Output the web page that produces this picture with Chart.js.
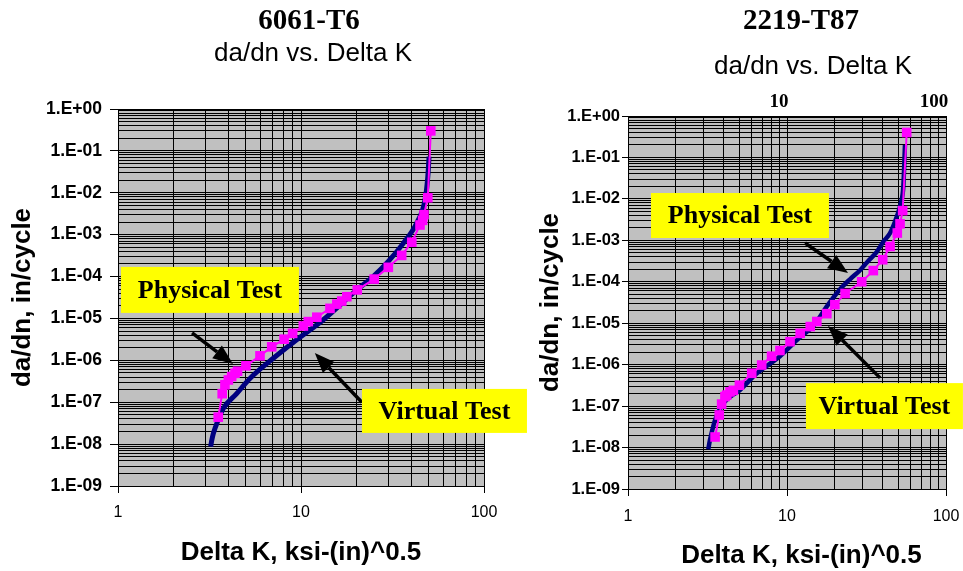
<!DOCTYPE html>
<html>
<head>
<meta charset="utf-8">
<script src="https://cdn.jsdelivr.net/npm/chart.js@4.4.1/dist/chart.umd.min.js"></script>
<style>
  body { margin: 0; background: #fff; width: 963px; height: 571px; position: relative; overflow: hidden; }
  canvas { position: absolute; top: 0; }
  #left { left: 0; }
  #right { left: 500px; }
</style>
</head>
<body>
<canvas id="left" width="540" height="571"></canvas>
<canvas id="right" width="463" height="571"></canvas>
<script>
// 6061-T6, Delta K (ksi-in^0.5) vs da/dn (in/cycle)
const phys6061K = [3.53, 3.71, 3.84, 4.01, 4.18, 4.36, 4.5, 5.0, 5.97, 6.92, 8.08, 9.0, 10.3, 10.96, 12.2, 14.4, 15.7, 16.7, 17.8, 20.3, 25.1, 30.0, 35.5, 40.3, 44.7, 46.2, 47.0, 49.3, 51.2];
const phys6061Rate = [4.4e-8, 1.6e-7, 2.6e-7, 3.4e-7, 4.1e-7, 4.9e-7, 5.5e-7, 7.4e-7, 1.28e-6, 2.1e-6, 3.2e-6, 4.4e-6, 6.6e-6, 8.4e-6, 1.07e-5, 1.74e-5, 2.2e-5, 2.6e-5, 3.3e-5, 4.8e-5, 8.7e-5, 1.66e-4, 3.2e-4, 6.6e-4, 1.7e-3, 2.2e-3, 3.0e-3, 7.6e-3, 0.30];
const virt6061K = [3.21, 3.25, 3.32, 3.53, 3.77, 4.45, 5.26, 7.06, 9.47, 13.2, 20.2, 24.8, 30.0, 36.2, 42.9, 47.6, 49.3, 50.1];
const virt6061Rate = [8.7e-9, 1.2e-8, 1.8e-8, 3.8e-8, 7.2e-8, 1.6e-7, 3.7e-7, 1.12e-6, 3.1e-6, 9.2e-6, 4.8e-5, 1.0e-4, 2.3e-4, 6.2e-4, 1.9e-3, 6.7e-3, 0.024, 0.073];

// 2219-T87
const phys2219K = [3.53, 3.75, 3.88, 4.07, 4.18, 4.38, 4.6, 5.02, 6.0, 6.93, 8.0, 9.03, 10.45, 12.1, 14.0, 15.4, 17.8, 20.0, 23.2, 29.5, 34.9, 40.0, 44.5, 49.4, 51.4, 53.4, 56.6];
const phys2219Rate = [1.8e-8, 6.1e-8, 1.12e-7, 1.7e-7, 1.85e-7, 2.2e-7, 2.4e-7, 3.2e-7, 6.2e-7, 9.8e-7, 1.6e-6, 2.2e-6, 3.6e-6, 5.7e-6, 8.3e-6, 1.1e-5, 1.7e-5, 2.8e-5, 5.2e-5, 1.0e-4, 1.86e-4, 3.4e-4, 7.1e-4, 1.5e-3, 2.5e-3, 5.2e-3, 0.40];
const virt2219K = [3.2, 3.25, 3.31, 3.53, 3.98, 5.06, 6.44, 9.03, 12.0, 14.6, 18.0, 21.5, 24.9, 28.8, 32.0, 36.6, 40.4, 44.5, 49.0, 52.0, 53.9, 55.2];
const virt2219Rate = [9e-9, 1.3e-8, 1.8e-8, 4.6e-8, 1.17e-7, 2.45e-7, 6.1e-7, 1.6e-6, 4.5e-6, 8.5e-6, 2.7e-5, 6.5e-5, 1.15e-4, 1.9e-4, 3.0e-4, 5.2e-4, 9.3e-4, 1.5e-3, 3.7e-3, 8e-3, 0.02, 0.2];

// axis labels
const yTickLabels = ['1.E-09', '1.E-08', '1.E-07', '1.E-06', '1.E-05', '1.E-04', '1.E-03', '1.E-02', '1.E-01', '1.E+00'];
const xTickLabels = ['1', '10', '100'];
const topTickValues = [10, 100];
const topTickLabels = ['10', '100'];
const topAxisMin = 1.06, topAxisMax = 119.5;

const NAVY = '#000080';
const MAGENTA = '#ff00ff';
const SANS = '"Liberation Sans", Arial, sans-serif';
const SERIF = '"Liberation Serif", "Times New Roman", serif';

const pairs = (xs, ys) => xs.map((x, i) => ({ x, y: ys[i] }));

// every 1..9 step in each decade gets a grid line, decades are major
function logGrid(min, max) {
  const ticks = [];
  const lo = Math.round(Math.log10(min)), hi = Math.round(Math.log10(max));
  for (let e = lo; e < hi; e++) {
    for (let m = 1; m < 10; m++) ticks.push({ value: m * Math.pow(10, e), major: m === 1 });
  }
  ticks.push({ value: max, major: true });
  return ticks;
}

// fixed axis size, and no extra room for labels hanging past the ends
const fixSize = (w, h) => s => {
  if (w != null) s.width = w;
  if (h != null) s.height = h;
  s.paddingLeft = s.paddingRight = 0;
};

const gridOpts = tickLen => ({
  color: '#000',
  lineWidth: 1,
  tickLength: tickLen,
  tickColor: c => (c.tick && c.tick.major ? '#000' : 'rgba(0,0,0,0)')
});

function yAxis(width, tickLen, pad, size, titlePad) {
  return {
    type: 'logarithmic', min: 1e-9, max: 1,
    afterFit: fixSize(width, null),
    afterBuildTicks: s => { s.ticks = logGrid(1e-9, 1); },
    grid: gridOpts(tickLen),
    border: { color: '#000', width: 1 },
    ticks: {
      autoSkip: false, padding: pad, color: '#000',
      font: { family: SANS, weight: 'bold', size },
      callback: (v, i, t) => (t[i].major ? yTickLabels[Math.round(Math.log10(v)) + 9] : '')
    },
    title: { display: true, text: 'da/dn, in/cycle', color: '#000', font: { family: SANS, weight: 'bold', size: 26 }, padding: { top: titlePad, bottom: 0 } }
  };
}

function xAxis(height, tickLen, pad, titleText, titlePad) {
  return {
    type: 'logarithmic', position: 'bottom', min: 1, max: 100,
    afterFit: fixSize(null, height),
    afterBuildTicks: s => { s.ticks = logGrid(1, 100); },
    grid: gridOpts(tickLen),
    border: { color: '#000', width: 1 },
    ticks: {
      autoSkip: false, maxRotation: 0, padding: pad, color: '#000',
      font: { family: SANS, size: 16 },
      callback: (v, i, t) => (t[i].major ? xTickLabels[Math.round(Math.log10(v))] : '')
    },
    title: { display: true, text: titleText, color: '#000', font: { family: SANS, weight: 'bold', size: 26 }, padding: { top: 0, bottom: titlePad } }
  };
}

function datasets(physK, physRate, virtK, virtRate, virtWidth) {
  return [
    {
      label: 'Physical Test', data: pairs(physK, physRate), showLine: true,
      borderColor: MAGENTA, backgroundColor: MAGENTA, borderWidth: 2,
      pointStyle: 'rect', pointRadius: 6.8, pointBorderWidth: 0
    },
    {
      label: 'Virtual Test', data: pairs(virtK, virtRate), showLine: true,
      borderColor: NAVY, borderWidth: virtWidth, pointRadius: 0,
      cubicInterpolationMode: 'monotone'
    }
  ];
}

// grey plot area like the spreadsheet
const plotBg = {
  id: 'plotBg',
  beforeDraw(chart) {
    const { ctx, chartArea: a } = chart;
    ctx.save();
    ctx.fillStyle = '#c0c0c0';
    ctx.fillRect(a.left, a.top, a.width, a.height);
    ctx.restore();
  }
};

// chart titles sit off-centre, so they are placed by hand
const headings = {
  id: 'headings',
  afterDraw(chart, args, opts) {
    const ctx = chart.ctx;
    ctx.save();
    ctx.fillStyle = '#000';
    ctx.textAlign = 'center';
    ctx.textBaseline = 'middle';
    for (const t of opts.items || []) {
      ctx.font = t.font;
      ctx.fillText(t.text, t.x, t.y);
    }
    ctx.restore();
  }
};

// yellow labels and arrows, anchored in data coordinates
const callouts = {
  id: 'callouts',
  afterDatasetsDraw(chart, args, opts) {
    const { ctx, scales: { x, y } } = chart;
    const px = p => [x.getPixelForValue(p[0]), y.getPixelForValue(p[1])];
    ctx.save();
    ctx.strokeStyle = '#000';
    ctx.fillStyle = '#000';
    for (const a of opts.arrows || []) {
      const [x0, y0] = px(a.from), [x1, y1] = px(a.to);
      const ang = Math.atan2(y1 - y0, x1 - x0);
      const c = Math.cos(ang), s = Math.sin(ang);
      const head = 20, half = 8;
      const bx = x1 - head * c, by = y1 - head * s;
      ctx.lineWidth = 3.5;
      ctx.beginPath();
      ctx.moveTo(x0, y0);
      ctx.lineTo(bx, by);
      ctx.stroke();
      ctx.beginPath();
      ctx.moveTo(x1, y1);
      ctx.lineTo(bx - half * s, by + half * c);
      ctx.lineTo(bx + half * s, by - half * c);
      ctx.closePath();
      ctx.fill();
    }
    ctx.font = 'bold 26px ' + SERIF;
    ctx.textAlign = 'center';
    ctx.textBaseline = 'middle';
    for (const b of opts.boxes || []) {
      const [cx, cy] = px(b.at);
      ctx.fillStyle = '#ffff00';
      ctx.fillRect(cx - b.w / 2, cy - b.h / 2, b.w, b.h);
      ctx.fillStyle = '#000';
      ctx.fillText(b.text, cx, cy + 1);
    }
    ctx.restore();
  }
};

new Chart(document.getElementById('left'), {
  type: 'scatter',
  data: { datasets: datasets(phys6061K, phys6061Rate, virt6061K, virt6061Rate, 5) },
  options: {
    responsive: false, animation: false, events: [],
    layout: { padding: { top: 109, right: 56, left: 0, bottom: 0 } },
    plugins: {
      legend: { display: false },
      tooltip: { enabled: false },
      headings: {
        items: [
          { text: '6061-T6', x: 309, y: 22, font: 'bold 29px ' + SERIF },
          { text: 'da/dn vs. Delta K', x: 313, y: 54, font: '26px ' + SANS }
        ]
      },
      callouts: {
        boxes: [
          { text: 'Physical Test', at: [3.18, 4.8e-5], w: 178, h: 46 },
          { text: 'Virtual Test', at: [60.8, 6.2e-8], w: 165, h: 44 }
        ],
        arrows: [
          { from: [2.54, 4.5e-6], to: [4.25, 8.2e-7] },
          { from: [21.5, 1.0e-7], to: [11.9, 1.5e-6] }
        ]
      }
    },
    scales: {
      x: xAxis(85, 7, 10, 'Delta K, ksi-(in)^0.5', 2.7),
      y: yAxis(118, 8, 8, 17.5, 7.1)
    }
  },
  plugins: [plotBg, headings, callouts]
});

new Chart(document.getElementById('right'), {
  type: 'scatter',
  data: { datasets: datasets(phys2219K, phys2219Rate, virt2219K, virt2219Rate, 4.5) },
  options: {
    responsive: false, animation: false, events: [],
    layout: { padding: { top: 0, right: 17, left: 0, bottom: 0 } },
    plugins: {
      legend: { display: false },
      tooltip: { enabled: false },
      headings: {
        items: [
          { text: '2219-T87', x: 301, y: 22, font: 'bold 29px ' + SERIF },
          { text: 'da/dn vs. Delta K', x: 313, y: 67, font: '26px ' + SANS }
        ]
      },
      callouts: {
        boxes: [
          { text: 'Physical Test', at: [5.06, 3.97e-3], w: 178, h: 45 },
          { text: 'Virtual Test', at: [41.0, 1.0e-7], w: 157, h: 46 }
        ],
        arrows: [
          { from: [12.98, 8.6e-4], to: [24.2, 1.63e-4] },
          { from: [38.5, 4.8e-7], to: [18.1, 8.6e-6] }
        ]
      }
    },
    scales: {
      // leading spaces nudge the title right, as in the source sheet
      x: xAxis(82, 7, 11, '    Delta K, ksi-(in)^0.5', 0),
      x2: {
        type: 'logarithmic', position: 'top', min: topAxisMin, max: topAxisMax,
        afterFit: fixSize(null, 116),
        afterBuildTicks: s => { s.ticks = topTickValues.map(v => ({ value: v, major: true })); },
        grid: { display: false },
        border: { display: false },
        ticks: {
          autoSkip: false, maxRotation: 0, padding: -5, color: '#000',
          font: { family: SERIF, weight: 'bold', size: 19 },
          callback: (v, i) => topTickLabels[i]
        }
      },
      y: yAxis(128, 6, 2, 16.5, 35.4)
    }
  },
  plugins: [plotBg, headings, callouts]
});
</script>
</body>
</html>
